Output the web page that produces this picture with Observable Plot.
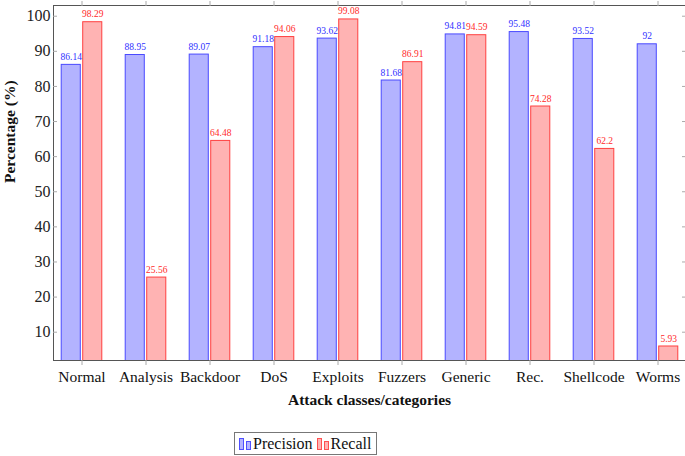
<!DOCTYPE html>
<html>
<head>
<meta charset="utf-8">
<script src="https://cdn.jsdelivr.net/npm/d3@7"></script>
<script src="https://cdn.jsdelivr.net/npm/@observablehq/plot@0.6"></script>
<style>
  html, body { margin: 0; padding: 0; background: #fff; }
  #legend {
    position: absolute; left: 234px; top: 432px; width: 141px; height: 21px;
    border: 1px solid #777; font-family: "Liberation Serif", serif; font-size: 16px;
    display: flex; align-items: center; color: #111; box-sizing: content-box;
  }
  #legend .item { display: flex; align-items: center; }
  #legend svg { margin: 0 2px 0 4px; }
</style>
</head>
<body>
<div id="chart"></div>
<div id="legend">
  <span class="item"><svg width="12" height="12"><rect x="0.5" y="0.5" width="4" height="11" fill="#b3b3ff" stroke="#5050ff"/><rect x="7.5" y="3.5" width="4" height="8" fill="#b3b3ff" stroke="#5050ff"/></svg>Precision</span>
  <span class="item"><svg width="12" height="12"><rect x="0.5" y="0.5" width="4" height="11" fill="#ffb3b3" stroke="#ff5050"/><rect x="7.5" y="3.5" width="4" height="8" fill="#ffb3b3" stroke="#ff5050"/></svg>Recall</span>
</div>
<script>
const categories = ["Normal", "Analysis", "Backdoor", "DoS", "Exploits", "Fuzzers", "Generic", "Rec.", "Shellcode", "Worms"];
const precision = [86.14, 88.95, 89.07, 91.18, 93.62, 81.68, 94.81, 95.48, 93.52, 92];
const recall = [98.29, 25.56, 64.48, 94.06, 99.08, 86.91, 94.59, 74.28, 62.2, 5.93];
const yTicks = [10, 20, 30, 40, 50, 60, 70, 80, 90, 100];
const xTitle = "Attack classes/categories";
const yTitle = "Percentage (%)";

const precData = categories.map((c, i) => ({category: c, value: precision[i]}));
const recData = categories.map((c, i) => ({category: c, value: recall[i]}));

const W = 685, H = 425, mL = 53, mR = 0, mT = 5, mB = 65;
const pIn = 0.3, pOut = 0.02;
const step = (W - mL - mR) / (categories.length - pIn + 2 * pOut);
const bw = step * (1 - pIn);
const barW = 19.5, gap = 1;

const blueFill = "#b3b3ff", blueStroke = "#4a4aff", blueText = "#3030ff";
const redFill = "#ffb3b3", redStroke = "#ff4040", redText = "#ff2a2a";
const font = "Liberation Serif, Times New Roman, serif";

const chart = Plot.plot({
  width: W, height: H,
  marginLeft: mL, marginRight: mR, marginTop: mT, marginBottom: mB,
  style: {fontFamily: font, background: "#fff"},
  x: {type: "band", domain: categories, paddingInner: pIn, paddingOuter: pOut, axis: null},
  y: {domain: [1.94, 103.05], axis: null},
  marks: [
    Plot.barY(precData, {x: "category", y: "value", fill: blueFill, stroke: blueStroke, strokeWidth: 1,
      insetLeft: bw / 2 - barW - gap, insetRight: bw / 2 + gap, clip: true}),
    Plot.barY(recData, {x: "category", y: "value", fill: redFill, stroke: redStroke, strokeWidth: 1,
      insetLeft: bw / 2 + gap, insetRight: bw / 2 - barW - gap, clip: true}),
    Plot.text(precData, {x: "category", y: "value", text: d => String(d.value), dx: -(barW / 2 + gap), dy: -8,
      fill: blueText, fontSize: 9.5, fontFamily: font}),
    Plot.text(recData, {x: "category", y: "value", text: d => String(d.value), dx: barW / 2 + gap, dy: -8,
      fill: redText, fontSize: 9.5, fontFamily: font}),
    Plot.frame({stroke: "#555", strokeWidth: 1}),
    Plot.axisY(yTicks, {anchor: "left", tickSize: -4, tickPadding: 7, stroke: "#aaa", color: "#222", fontSize: 16, label: null}),
    Plot.axisY(yTicks, {anchor: "right", tickSize: -4, tickFormat: () => "", stroke: "#aaa", label: null}),
    Plot.axisX(categories, {anchor: "bottom", tickSize: 5, tickPadding: 5, stroke: "#aaa", color: "#111", fontSize: 15.5, label: null}),
    Plot.axisX(categories, {anchor: "top", tickSize: 5, tickFormat: () => "", stroke: "#aaa", label: null}),
    Plot.text([xTitle], {frameAnchor: "bottom", dy: 44, fontWeight: "bold", fontSize: 15.5, fill: "#111", fontFamily: font}),
    Plot.text([yTitle], {frameAnchor: "left", dx: -43, rotate: -90, fontWeight: "bold", fontSize: 15.5, fill: "#111", fontFamily: font})
  ]
});
document.getElementById("chart").appendChild(chart);
</script>
</body>
</html>
